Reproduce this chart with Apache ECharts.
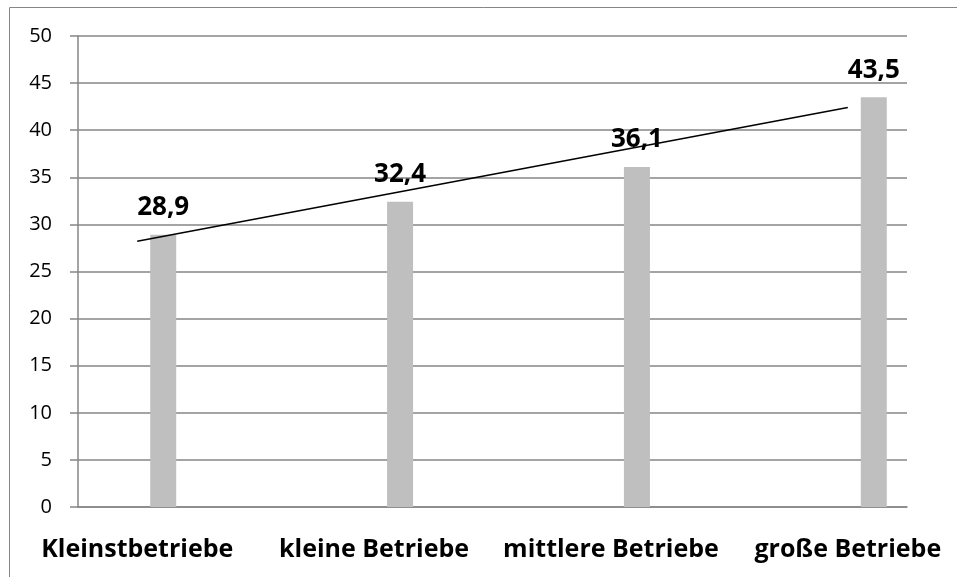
<!DOCTYPE html>
<html>
<head>
<meta charset="utf-8">
<script src="https://cdn.jsdelivr.net/npm/echarts@6/dist/echarts.min.js"></script>
<style>
  html, body { margin: 0; padding: 0; background: #fff; }
  #chart { width: 957px; height: 577px; }
</style>
</head>
<body>
<div id="chart"></div>
<script>
// Betriebsgrößen und Werte
const categories = ["Kleinstbetriebe", "kleine Betriebe", "mittlere Betriebe", "große Betriebe"];
const values = [28.9, 32.4, 36.1, 43.5];
// linearer Trend, Endpunkte
const trendStart = 28.2;
const trendEnd = 42.4;
const yTicks = { min: 0, max: 50, interval: 5 };

// Excel-Achse hat Leerkategorien zwischen den Betrieben
const slots = [];
const barData = [];
const emptyData = [];
const trendData = [];
categories.forEach((c, i) => {
  slots.push(c);
  barData.push(values[i]);
  emptyData.push(null);
  trendData.push(null);
  if (i < categories.length - 1) {
    slots.push("");
    barData.push(null);
    emptyData.push(null);
    trendData.push(null);
  }
});
trendData[0] = trendStart;
trendData[trendData.length - 1] = trendEnd;

const gray = "#868686";
const font = "'Open Sans', 'Noto Sans', sans-serif";

const chart = echarts.init(document.getElementById("chart"));
chart.setOption({
  animation: false,
  textStyle: { fontFamily: font },
  grid: { left: 78, right: 50, top: 36, bottom: 70 },
  graphic: [{
    type: "rect",
    shape: { x: 9.5, y: 7.5, width: 1200, height: 1200 },
    style: { fill: "none", stroke: gray, lineWidth: 1 },
    silent: true
  }],
  xAxis: {
    type: "category",
    data: slots,
    boundaryGap: true,
    axisLine: { lineStyle: { color: gray, width: 1.5 } },
    axisTick: { interval: 0, length: 9, lineStyle: { color: gray, width: 1.5 } },
    axisLabel: {
      interval: 0,
      margin: 30,
      color: "#000",
      fontSize: 25,
      fontWeight: "bold",
      fontFamily: font
    }
  },
  yAxis: {
    type: "value",
    min: yTicks.min,
    max: yTicks.max,
    interval: yTicks.interval,
    axisLine: { show: true, lineStyle: { color: gray, width: 1.5 } },
    axisTick: { show: true, length: 8, lineStyle: { color: gray, width: 1.5 } },
    axisLabel: { margin: 26, color: "#000", fontSize: 20, fontFamily: font },
    splitLine: { lineStyle: { color: gray, width: 1.5 } }
  },
  series: [
    {
      type: "bar",
      data: emptyData,
      barWidth: 26,
      barGap: "100%",
      silent: true
    },
    {
      type: "bar",
      data: barData,
      barWidth: 26,
      itemStyle: { color: "#BFBFBF" },
      label: {
        show: true,
        position: "top",
        distance: 14,
        color: "#000",
        fontSize: 26,
        fontWeight: "bold",
        fontFamily: font,
        formatter: p => String(p.value).replace(".", ",")
      },
      silent: true
    },
    {
      type: "line",
      data: trendData,
      connectNulls: true,
      showSymbol: false,
      symbol: "none",
      lineStyle: { color: "#000", width: 1.5 },
      z: 5,
      silent: true
    }
  ]
});
</script>
</body>
</html>
